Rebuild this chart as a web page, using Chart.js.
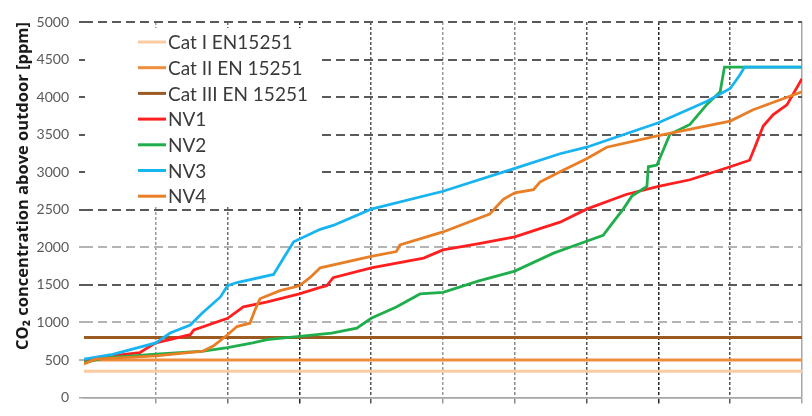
<!DOCTYPE html>
<html lang="en">
<head>
  <meta charset="UTF-8">
  <title>CO2 concentration above outdoor</title>
  <script src="https://cdn.jsdelivr.net/npm/chart.js"></script>
  <style>
    body {
      margin: 0;
      background: #fff;
    }
    .chart-box {
      width: 812px;
      height: 416px;
    }
  </style>
</head>
<body>
  <div class="chart-box">
    <canvas id="co2Chart"></canvas>
  </div>

  <script>
    // values (x = share of occupied time, %)
    const yTicksMax = 5000;
    const yTicksStep = 500;

    const catX = [0, 100];
    const catI = [350, 350];
    const catII = [500, 500];
    const catIII = [800, 800];

    const nv1X = [0, 2, 5, 7.8, 8.5, 10, 14.8, 15.3, 20, 22.2, 25.4, 30, 32.9, 33.8, 34.7, 40, 47.3, 50, 55, 60, 63.5, 66.3, 70, 75.5, 80, 84.4, 90, 92.7, 93.5, 94.6, 96, 97.9, 100];
    const nv1Y = [480, 530, 570, 600, 642, 729, 837, 902, 1055, 1207, 1272, 1380, 1467, 1488, 1597, 1728, 1858, 1966, 2050, 2139, 2249, 2335, 2509, 2704, 2812, 2900, 3073, 3160, 3350, 3616, 3767, 3897, 4245];

    const nv2X = [0, 3, 10, 16.6, 20, 23.5, 25.5, 30, 34.5, 38, 40, 43.5, 46.8, 50, 55, 60, 65.4, 69.8, 72.3, 73.7, 75.1, 76.3, 78.4, 78.6, 79.8, 81.6, 84.4, 86.7, 88.6, 89.2, 100];
    const nv2Y = [469, 530, 577, 620, 664, 729, 772, 816, 859, 924, 1055, 1207, 1380, 1402, 1554, 1684, 1923, 2074, 2161, 2335, 2509, 2682, 2812, 3073, 3095, 3507, 3637, 3897, 4072, 4400, 4400];

    const nv3X = [0, 4, 10, 12, 14.8, 16.4, 19, 20, 21.3, 26.4, 27.8, 29.2, 32.9, 34.7, 40, 50, 60, 66.3, 70, 80, 86.7, 90, 91.3, 92, 100];
    const nv3Y = [512, 577, 729, 859, 967, 1120, 1340, 1489, 1532, 1640, 1858, 2074, 2240, 2292, 2509, 2747, 3051, 3246, 3333, 3659, 3941, 4115, 4288, 4400, 4400];

    const nv4X = [0, 1.6, 10, 16.6, 18, 20, 21.3, 23.1, 23.8, 24.5, 27.3, 30, 31.5, 32.9, 40, 43.5, 44, 50, 56.5, 58.4, 60, 62.6, 63.5, 66.3, 70, 72.8, 80, 90, 93.2, 100];
    const nv4Y = [447, 512, 556, 620, 686, 837, 946, 990, 1163, 1315, 1423, 1488, 1600, 1728, 1879, 1944, 2031, 2205, 2444, 2639, 2725, 2769, 2870, 3008, 3181, 3333, 3486, 3681, 3832, 4072];

    const labels = ['Cat I EN15251', 'Cat II EN 15251', 'Cat III EN 15251', 'NV1', 'NV2', 'NV3', 'NV4'];
    const colors = ['#fbcba4', '#ef8d3e', '#9b5a22', '#ff1f1f', '#1fae4b', '#18b4f0', '#e87e26'];

    // vertical grid line colours, one per x tick (0..100)
    const xGridColors = ['rgba(0,0,0,0)', '#9a9a9a', '#707070', '#262626', '#555', '#9a9a9a', '#888', '#555', '#262626', '#555', '#a6a6a6'];

    function pts(xs, ys) {
      return xs.map((x, i) => ({ x: x, y: ys[i] }));
    }

    // legend drawn inside the plot, on a white box that hides the grid
    const insideLegend = {
      id: 'insideLegend',
      beforeDatasetsDraw(chart) {
        const { ctx, chartArea } = chart;
        const left = chartArea.left;
        ctx.save();
        ctx.fillStyle = '#fff';
        ctx.fillRect(left + 1, 28, 234, 178);
        ctx.font = '19px Lato';
        ctx.textBaseline = 'middle';
        chart.data.datasets.forEach((ds, i) => {
          const y = 42 + i * 25.7;
          ctx.strokeStyle = ds.borderColor;
          ctx.lineWidth = 3;
          ctx.beginPath();
          ctx.moveTo(left + 54, y);
          ctx.lineTo(left + 82, y);
          ctx.stroke();
          ctx.fillStyle = '#3a3a3a';
          ctx.fillText(ds.label, left + 84, y + 1);
        });
        ctx.restore();
      }
    };

    const series = [pts(catX, catI), pts(catX, catII), pts(catX, catIII),
                    pts(nv1X, nv1Y), pts(nv2X, nv2Y), pts(nv3X, nv3Y), pts(nv4X, nv4Y)];

    Chart.defaults.font.family = 'Lato';

    new Chart(document.getElementById('co2Chart'), {
      type: 'line',
      data: {
        datasets: series.map((d, i) => ({
          label: labels[i],
          data: d,
          borderColor: colors[i],
          backgroundColor: colors[i],
          borderWidth: i < 3 ? 3 : 2.8,
          pointRadius: 0,
          tension: 0,
          fill: false,
          order: series.length - i
        }))
      },
      options: {
        responsive: true,
        maintainAspectRatio: false,
        animation: false,
        layout: { padding: { top: 22, right: 10, bottom: 0, left: 0 } },
        plugins: {
          legend: { display: false },
          tooltip: { enabled: false }
        },
        scales: {
          x: {
            type: 'linear',
            min: 0,
            max: 100,
            ticks: { display: false, stepSize: 10 },
            grid: {
              color: (c) => xGridColors[c.index] || '#555',
              lineWidth: 1.5,
              tickLength: 6,
              tickColor: (c) => xGridColors[c.index] || '#555'
            },
            border: {
              display: true,
              color: '#a6a6a6',
              width: 1.5,
              dash: (c) => (c.index === 10 || c.index === undefined) ? [] : [3, 2]
            },
            afterFit: (scale) => { scale.height = 10; }
          },
          y: {
            min: 0,
            max: yTicksMax,
            ticks: {
              stepSize: yTicksStep,
              color: '#595959',
              font: { size: 14 },
              padding: 10,
              callback: (v) => String(v)
            },
            grid: {
              color: (c) => {
                const v = c.tick ? c.tick.value : 0;
                if (v === 0) return '#a6a6a6';
                if (v === 500 || v === 1000 || v === 2000) return '#b4b4b4';
                return '#5a5a5a';
              },
              lineWidth: (c) => (c.tick && c.tick.value === 0) ? 1.5 : 2,
              tickLength: 5
            },
            border: {
              display: false,
              dash: (c) => (c.index === 0) ? [] : [9, 5]
            },
            title: {
              display: true,
              text: 'CO₂ concentration above outdoor [ppm]',
              color: '#1a1a1a',
              font: { family: 'Open Sans', size: 16.5, weight: 'bold' },
              align: 'end',
              padding: { top: 13, bottom: 0 }
            },
            afterFit: (scale) => { scale.width = 84; }
          }
        }
      },
      plugins: [insideLegend]
    });
  </script>
</body>
</html>
